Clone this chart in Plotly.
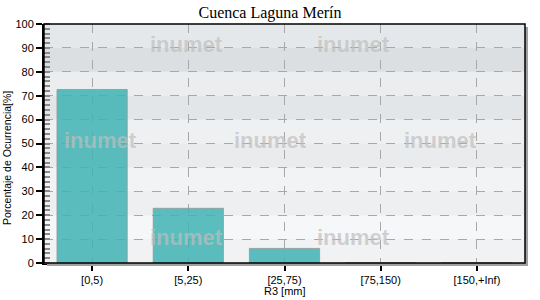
import plotly.graph_objects as go

categories = ["[0,5)", "[5,25)", "[25,75)", "[75,150)", "[150,+Inf)"]
values = [72.6, 22.9, 6.1, 0, 0]
y_ticks = list(range(0, 101, 10))
title = "Cuenca Laguna Merín"
x_title = "R3 [mm]"
y_title = "Porcentaje de Ocurrencia[%]"
watermark = "inumet"

band_colors = ["#f1f2f3", "#f6f7f8", "#eeeff1", "#f2f3f5", "#e9ebed",
               "#eef0f2", "#e3e6e8", "#ebedef", "#dcdfe1", "#e5e8ea"]

W, H = 540, 300
L, R, T, B = 44, 15, 24, 37
pw, ph = W - L - R, H - T - B


def px_x(px):
    return (px - L) / pw


def px_y(py):
    return (H - B - py) / ph


fig = go.Figure()
fig.add_trace(go.Bar(
    x=categories, y=values, width=0.73,
    marker=dict(color="rgba(64,179,179,0.85)",
                line=dict(color="rgba(150,150,150,0.8)", width=1)),
))

shapes = []
for i, c in enumerate(band_colors):
    shapes.append(dict(type="rect", xref="paper", yref="y", x0=0, x1=1,
                       y0=y_ticks[i], y1=y_ticks[i + 1], fillcolor=c,
                       line=dict(width=0), layer="below"))
# drop shadow of plot frame
sx = 3 / pw
sy = 3 / ph
shapes.append(dict(type="rect", xref="paper", yref="paper", x0=1, x1=1 + sx,
                   y0=-sy, y1=1 - sy, fillcolor="#a0a0a0", line=dict(width=0)))
shapes.append(dict(type="rect", xref="paper", yref="paper", x0=sx, x1=1 + sx,
                   y0=-sy, y1=0, fillcolor="#a0a0a0", line=dict(width=0)))
# frame
shapes.append(dict(type="rect", xref="paper", yref="paper", x0=0, x1=1,
                   y0=0, y1=1, line=dict(color="black", width=1.5)))

wm_pos = [(186, 45), (353, 45), (100, 140), (270, 140), (440, 140), (186, 237), (353, 237)]
annotations = []
for px, py in wm_pos:
    annotations.append(dict(text="<b>" + watermark + "</b>", xref="paper", yref="paper",
                            x=px_x(px), y=px_y(py), showarrow=False,
                            xanchor="center", yanchor="middle",
                            font=dict(family="Liberation Sans, Arial", size=22,
                                      color="rgba(190,190,190,0.7)")))
annotations.append(dict(text=x_title, xref="paper", yref="paper", x=px_x(285), y=px_y(291),
                        showarrow=False, xanchor="center", yanchor="middle",
                        font=dict(family="Liberation Sans, Arial", size=11, color="black")))
annotations.append(dict(text=y_title, xref="paper", yref="paper", x=px_x(7), y=px_y(158),
                        showarrow=False, xanchor="center", yanchor="middle", textangle=-90,
                        font=dict(family="Liberation Sans, Arial", size=10.5, color="black")))

fig.update_layout(
    width=W, height=H,
    margin=dict(l=L, r=R, t=T, b=B),
    paper_bgcolor="white", plot_bgcolor="#eeeff1",
    showlegend=False, bargap=0.27,
    title=dict(text=title, x=0.5, xanchor="center", y=1 - 12 / H, yanchor="middle",
               font=dict(family="Liberation Serif, Times New Roman", size=16, color="black")),
    shapes=shapes, annotations=annotations,
    font=dict(family="Liberation Sans, Arial", size=11, color="black"),
)
fig.update_xaxes(
    range=[-0.5, 4.5], showgrid=True, gridcolor="#a8a8a8", griddash="dash", gridwidth=1,
    ticks="outside", ticklen=6, tickcolor="black", tickwidth=1.5,
    showline=True, linecolor="black", linewidth=2, automargin=False,
    tickfont=dict(size=11),
)
fig.update_yaxes(
    range=[0, 100], tickvals=y_ticks, showgrid=True, gridcolor="#a8a8a8", griddash="dash",
    gridwidth=1, zeroline=False, automargin=False,
    ticks="outside", ticklen=6, tickcolor="black", tickwidth=1.5,
    showline=True, linecolor="black", linewidth=2,
    minor=dict(dtick=2, ticks="inside", ticklen=6, tickcolor="#8a8a8a", showgrid=False),
    tickfont=dict(size=11),
)

fig.write_html("out.html")
